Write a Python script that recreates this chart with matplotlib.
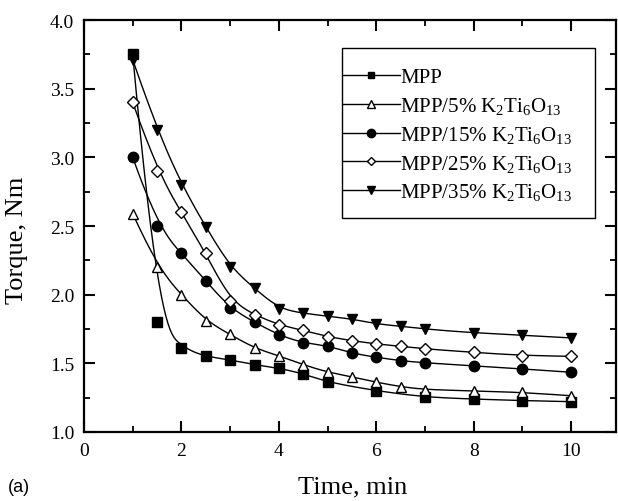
##### TORQUE vs TIME - MPP / K2Ti6O13 composites

import numpy as np
import matplotlib
matplotlib.use("Agg")
from matplotlib import pyplot as plt
from matplotlib.patches import Rectangle
from matplotlib.ticker import MultipleLocator, FormatStrFormatter


plt.rcParams["font.family"] = "Liberation Serif"
plt.rcParams["mathtext.fontset"] = "custom"
plt.rcParams["mathtext.rm"] = "Liberation Serif"
plt.rcParams["mathtext.default"] = "regular"

# mixing time / min and torque / Nm for each blend
t_mpp = [1, 1.5, 2, 2.5, 3, 3.5, 4, 4.5, 5, 6, 7, 8, 9, 10]
torque_mpp = [3.75, 1.80, 1.61, 1.55, 1.525, 1.49, 1.465, 1.425, 1.362, 1.30, 1.253, 1.240, 1.228, 1.221]

t_fill = [1, 1.5, 2, 2.5, 3, 3.5, 4, 4.5, 5, 5.5, 6, 6.5, 7, 8, 9, 10]
torque_5 = [2.59, 2.20, 2.00, 1.81, 1.71, 1.61, 1.555, 1.49, 1.435, 1.403, 1.362, 1.330, 1.308, 1.30, 1.289, 1.264]
torque_15 = [3.00, 2.50, 2.30, 2.10, 1.90, 1.80, 1.705, 1.648, 1.629, 1.573, 1.544, 1.519, 1.503, 1.483, 1.459, 1.435]
torque_25 = [3.40, 2.90, 2.60, 2.30, 1.955, 1.853, 1.78, 1.74, 1.694, 1.665, 1.641, 1.624, 1.605, 1.580, 1.556, 1.551]
torque_35 = [3.71, 3.20, 2.80, 2.495, 2.20, 2.047, 1.896, 1.865, 1.843, 1.823, 1.787, 1.770, 1.750, 1.721, 1.706, 1.685]

labels = ["MPP",
          r"MPP/5% K$_2$Ti$_6$O$_{13}$",
          r"MPP/15% K$_2$Ti$_6$O$_{13}$",
          r"MPP/25% K$_2$Ti$_6$O$_{13}$",
          r"MPP/35% K$_2$Ti$_6$O$_{13}$"]


def bspline(x, y, num=400, k=3):
    # clamped cubic B-spline using the data points as control polygon
    pts = np.column_stack([x, y]).astype(float)
    n = len(pts)
    knots = np.concatenate([np.zeros(k), np.linspace(0, 1, n - k + 1), np.ones(k)])
    u = np.linspace(0, 1, num)
    u[-1] = 1 - 1e-12
    N = np.array([(knots[i] <= u) & (u < knots[i + 1])
                  for i in range(len(knots) - 1)], dtype=float).T
    for d in range(1, k + 1):
        Nn = np.zeros((num, len(knots) - 1 - d))
        for i in range(len(knots) - 1 - d):
            den1 = knots[i + d] - knots[i]
            den2 = knots[i + d + 1] - knots[i + 1]
            a = (u - knots[i]) / den1 * N[:, i] if den1 > 0 else 0
            b = (knots[i + d + 1] - u) / den2 * N[:, i + 1] if den2 > 0 else 0
            Nn[:, i] = a + b
        N = Nn
    c = N @ pts
    return c[:, 0], c[:, 1]


series = [
    (t_mpp, torque_mpp, "s", "black", 6.5),
    (t_fill, torque_5, "^", "white", 7.5),
    (t_fill, torque_15, "o", "black", 7.5),
    (t_fill, torque_25, "D", "white", 6),
    (t_fill, torque_35, "v", "black", 7.5),
]

fig = plt.figure(figsize=(6.18, 5.02), dpi=100)
ax = fig.add_axes([84 / 618, 1 - 433 / 502, 532 / 618, 412 / 502])

handles = []
for (x, y, mk, face, ms), lab in zip(series, labels):
    sx, sy = bspline(x, y)
    ax.plot(sx, sy, color="black", lw=1.0, zorder=2)
    ax.plot(x, y, ls="none", marker=mk, ms=ms, mfc=face, mec="black", mew=1.0, zorder=3)
    h, = ax.plot([], [], color="black", lw=1.0, marker=mk, ms=ms - 1.5,
                 mfc=face, mec="black", mew=1.0, label=lab)
    handles.append(h)

ax.set_xlim(0, 10.92)
ax.set_ylim(1.0, 4.0)
ax.xaxis.set_major_locator(MultipleLocator(2))
ax.xaxis.set_minor_locator(MultipleLocator(1))
ax.yaxis.set_major_locator(MultipleLocator(0.5))
ax.yaxis.set_minor_locator(MultipleLocator(0.25))
ax.yaxis.set_major_formatter(FormatStrFormatter("%.1f"))

ax.tick_params(which="both", direction="in", top=True, right=True, labelsize=14)
ax.tick_params(which="major", length=8, width=1.5, pad=7)
ax.tick_params(which="minor", length=4.5, width=1.3)
for s in ax.spines.values():
    s.set_linewidth(1.6)

ax.set_xlabel("Time, min", fontsize=19)
ax.set_ylabel("Torque, Nm", fontsize=19)
ax.xaxis.set_label_coords(0.504, -0.105)
ax.yaxis.set_label_coords(-0.105, 0.468)

# legend frame drawn separately so the handle lines run up to its left edge
frame = Rectangle((0.485, 0.519), 0.4755, 0.413, transform=ax.transAxes,
                  fill=True, facecolor="white", edgecolor="black", lw=1.0, zorder=4)
ax.add_patch(frame)
leg = ax.legend(handles=handles, loc="upper left", bbox_to_anchor=(0.4865, 0.884),
                borderaxespad=0, borderpad=0, fontsize=15, frameon=False,
                handlelength=2.74, handletextpad=0.0, labelspacing=0.37)
leg.set_zorder(5)

fig.text(8 / 618, 1 - 488 / 502, "(a)", fontsize=13, family="Liberation Sans", va="center")

plt.savefig("out.png", dpi=100)
